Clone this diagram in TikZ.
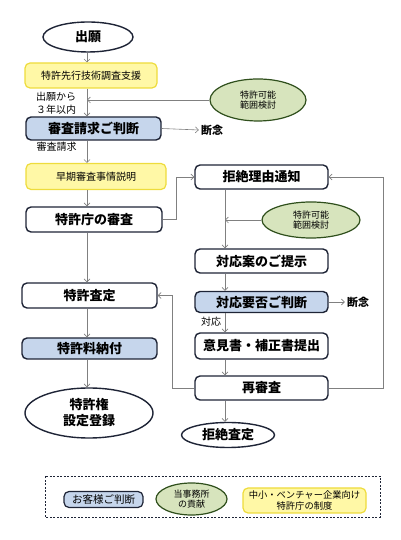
\documentclass[tikz,border=0pt]{standalone}
\usepackage{fontspec}
\setmainfont{Noto Sans CJK JP}
\usetikzlibrary{arrows.meta,calc,positioning,shapes.geometric}
\definecolor{fcnavy}{HTML}{1E2436}
\definecolor{fcblue}{HTML}{C6D6EC}
\definecolor{fcyellow}{HTML}{FFF8A6}
\definecolor{fcyellowline}{HTML}{EEDC3C}
\definecolor{fcgreen}{HTML}{D7E4BD}
\definecolor{fcgreenline}{HTML}{2F4F1C}
\definecolor{fcgray}{HTML}{808080}
\tikzset{
 fc box/.style={draw=fcnavy,line width=1.4pt,rounded corners=5pt,fill=white,
                minimum width=133pt,minimum height=24pt,inner sep=0pt,
                font=\fontsize{13}{15}\selectfont\bfseries},
 fc judge/.style={fc box,fill=fcblue},
 fc support/.style={draw=fcyellowline,line width=1.2pt,rounded corners=5pt,
                    fill=fcyellow,minimum height=25pt,inner sep=0pt,
                    font=\fontsize{10}{12}\selectfont},
 fc terminal/.style={ellipse,draw=fcnavy,line width=1.4pt,fill=white,
                     inner sep=0pt,align=center,
                     font=\fontsize{13}{16}\selectfont\bfseries},
 fc contrib/.style={ellipse,draw=fcgreenline,line width=1.2pt,fill=fcgreen,
                    inner sep=0pt,align=center,
                    font=\fontsize{9}{10.5}\selectfont},
 fc link/.style={draw=fcgray,line width=.6pt,
                 -{Straight Barb[length=3pt,width=6pt]}},
 fc note/.style={font=\fontsize{10}{13}\selectfont,align=left,inner sep=0pt},
 fc stop/.style={font=\fontsize{11}{13}\selectfont\bfseries,inner sep=2pt}
}

\begin{document}
\begin{tikzpicture}[x=10pt,y=10pt]
 \useasboundingbox (0,0) rectangle (40,54);
 \coordinate (lx) at (8.7,0);
 \coordinate (rx) at (22.5,0);
 % left column
 \node[fc terminal,minimum width=90pt,minimum height=30pt] (app) at (8.8,50.3) {出願};
 \node[fc support,minimum width=132pt] (survey) at (9.1,46.45) {特許先行技術調査支援};
 \node[fc judge,minimum width=135pt,minimum height=23pt] (request) at (9.35,41.15) {審査請求ご判断};
 \node[fc support,minimum width=140pt,minimum height=26pt] (early) at (9.6,36.35) {早期審査事情説明};
 \node[fc box,minimum width=136pt,minimum height=25pt] (exam) at (9.4,32.05) {特許庁の審査};
 \node[fc box,minimum width=135pt,minimum height=25pt] (grant) at (8.95,24.45) {特許査定};
 \node[fc judge,minimum width=135pt,minimum height=21pt] (fee) at (8.95,19.15) {特許料納付};
 \node[fc terminal,minimum width=128pt,minimum height=50pt] (reg) at (8.9,12.7) {特許権\\設定登録};
 % right column
 \node[fc contrib,minimum width=96pt,minimum height=42pt] (check1) at (25.8,44.0) {特許可能\\範囲検討};
 \node[fc box] (notice) at (26.15,36.3) {拒絶理由通知};
 \node[fc contrib,minimum width=98pt,minimum height=36pt] (check2) at (31.1,32.0) {特許可能\\範囲検討};
 \node[fc box] (proposal) at (26.15,27.9) {対応案のご提示};
 \node[fc judge,minimum height=21pt] (decide) at (26.15,23.8) {対応要否ご判断};
 \node[fc box,minimum height=26pt] (reply) at (26.15,19.4) {意見書・補正書提出};
 \node[fc box] (reexam) at (26.15,15.2) {再審査};
 \node[fc terminal,minimum width=93pt,minimum height=25pt] (refuse) at (22.8,10.5) {拒絶査定};
 % side texts
 \node[fc note] (within) at (5.6,43.65) {出願から\\３年以内};
 \node[fc note] (reqnote) at (5.65,39.3) {審査請求};
 \node[fc note] (resp) at (21.1,21.8) {対応};
 \node[fc stop] (giveup1) at (21.2,41.0) {断念};
 \node[fc stop] (giveup2) at (35.8,23.8) {断念};
 % connectors
 \foreach \a/\b in {app/survey,survey/request,request/early,early/exam,
                    exam/grant,grant/fee,fee/reg}
   \draw[fc link] (\a.south -| lx) -- (\b.north -| lx);
 \foreach \a/\b in {notice/proposal,proposal/decide,decide/reply,
                    reply/reexam,reexam/refuse}
   \draw[fc link] (\a.south -| rx) -- (\b.north -| rx);
 \draw[fc link] (check1.west) -- (check1.west -| lx);
 \draw[fc link] (check2.west) -- (check2.west -| rx);
 \draw[fc link] (request.east) -- (giveup1.west);
 \draw[fc link] (decide.east) -- (giveup2.west);
 \draw[fc link] (exam.east) -- ++(1.4,0) |- (notice.west);
 \draw[fc link] (reexam.west) -- ++(-2.2,0) |- (grant.east);
 \draw[fc link] (reexam.east) -- ++(5.5,0) |- (notice.east);
 % legend
 \draw[fcnavy,line width=.8pt,dash pattern=on 2pt off 1.5pt] (4.5,2.3) rectangle (38.0,6.4);
 \node[fc judge,minimum width=79pt,minimum height=16pt,line width=1.2pt,
       font=\fontsize{10.5}{12}\selectfont] (keyjudge) at (10.35,4.05) {お客様ご判断};
 \node[fc contrib,minimum width=71pt,minimum height=32pt] (keycontrib) at (19.15,4.1) {当事務所\\の貢献};
 \node[fc support,minimum width=123pt,align=center,
       font=\fontsize{9.3}{11.5}\selectfont] (keysupport) at (30.45,3.95) {中小・ベンチャー企業向け\\特許庁の制度};
\end{tikzpicture}
\end{document}
